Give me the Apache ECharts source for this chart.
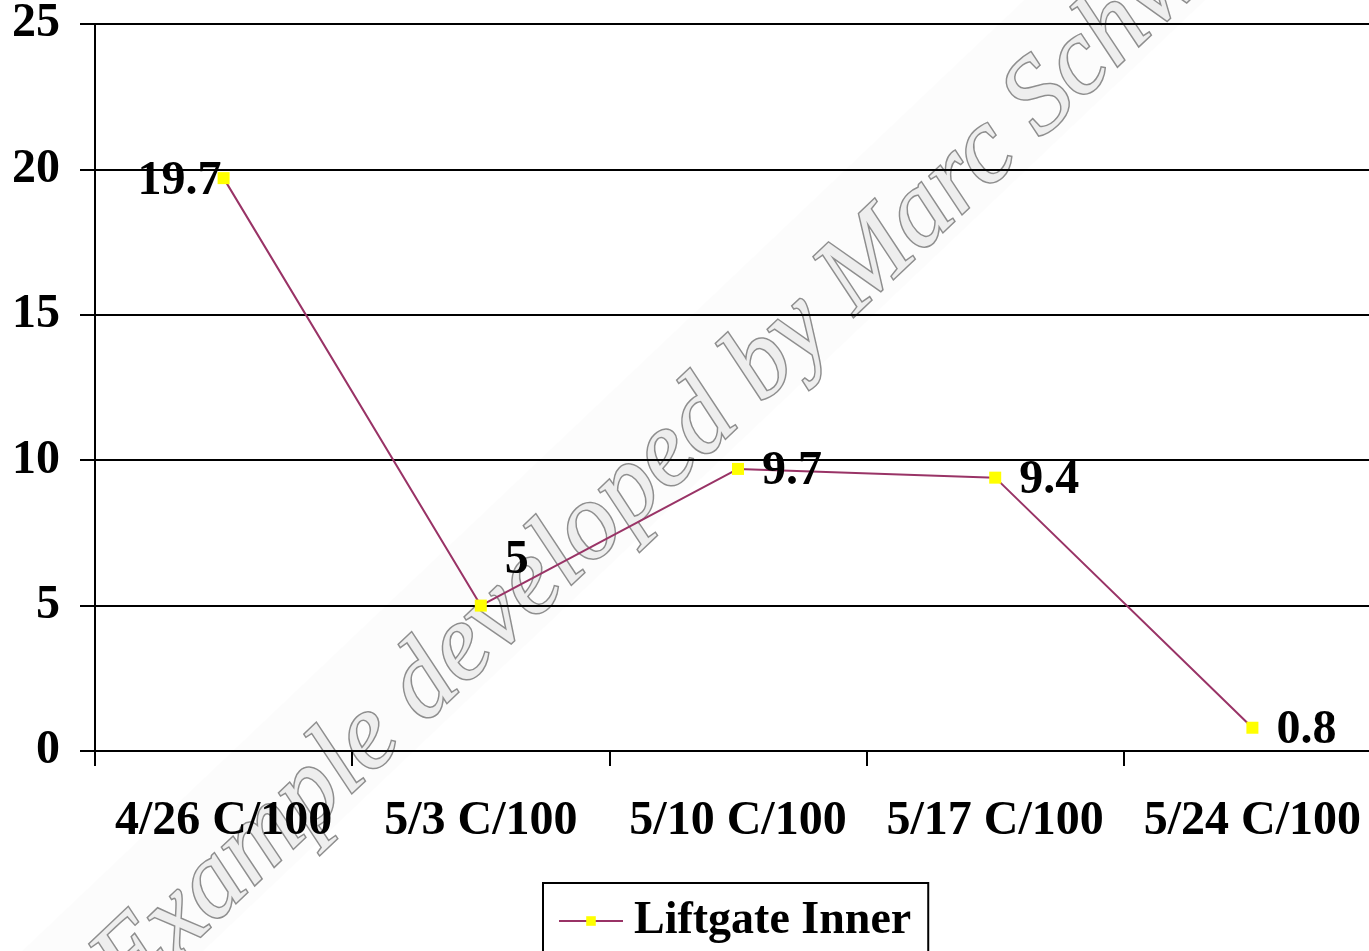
<!DOCTYPE html>
<html>
<head>
<meta charset="utf-8">
<script src="https://cdn.jsdelivr.net/npm/echarts@6/dist/echarts.min.js"></script>
<style>
html,body{margin:0;padding:0;background:#fff;overflow:hidden;}
#chart{width:1381px;height:951px;}
</style>
</head>
<body>
<div id="chart"></div>
<script>
const categories = ['4/26 C/100', '5/3 C/100', '5/10 C/100', '5/17 C/100', '5/24 C/100'];
const seriesName = 'Liftgate Inner';
const values = [19.7, 5, 9.7, 9.4, 0.8];
const yTicks = { min: 0, max: 25, interval: 5 };
const watermarkText = 'Example developed by Marc Schw';

const FONT = '"Liberation Serif", "Times New Roman", serif';
const chart = echarts.init(document.getElementById('chart'));

const seriesData = values.map((v, i) => {
  const d = { value: v };
  if (i === 0) {
    d.label = { position: 'left', distance: -4 };
  } else if (i === 1) {
    d.label = { position: 'right', distance: 18, offset: [0, -45] };
  }
  return d;
});

chart.setOption({
  animation: false,
  backgroundColor: '#ffffff',
  graphic: [{
    type: 'group',
    x: 132, y: 1005,
    rotation: 43.5 * Math.PI / 180,
    z: -10,
    silent: true,
    children: [
      { type: 'rect', shape: { x: -60, y: -115, width: 1700, height: 125 },
        style: { fill: 'rgba(0,0,0,0.012)' }, z: -10 },
      { type: 'text', x: 0, y: 23, z: -9,
        style: {
          text: watermarkText,
          fontFamily: FONT, fontStyle: 'italic', fontSize: 108,
          fill: '#eeeeee', stroke: '#8e8e8e', lineWidth: 3,
          verticalAlign: 'bottom', align: 'left',
          shadowColor: 'rgba(0,0,0,0.35)', shadowBlur: 2, shadowOffsetX: 2, shadowOffsetY: 2
        } }
    ]
  }],
  grid: { left: 95, top: 23, right: 0, height: 728, containLabel: false },
  legend: {
    show: true,
    left: 543, top: 883,
    padding: [15, 17, 40, 15],
    borderColor: '#000', borderWidth: 2,
    itemWidth: 64, itemHeight: 12,
    textStyle: { fontFamily: FONT, fontWeight: 'bold', fontSize: 46, color: '#000', padding: [0, 0, 0, 6] },
    data: [seriesName]
  },
  xAxis: {
    type: 'category',
    data: categories,
    boundaryGap: true,
    axisLine: { lineStyle: { color: '#000', width: 2 } },
    axisTick: { show: true, length: 15, lineStyle: { color: '#000', width: 2 } },
    axisLabel: { margin: 47, fontFamily: FONT, fontWeight: 'bold', fontSize: 48, color: '#000', interval: 0 },
    splitLine: { show: false }
  },
  yAxis: {
    type: 'value',
    min: yTicks.min, max: yTicks.max, interval: yTicks.interval,
    axisLine: { show: true, lineStyle: { color: '#000', width: 2 } },
    axisTick: { show: true, length: 15, lineStyle: { color: '#000', width: 2 } },
    axisLabel: { margin: 35, fontFamily: FONT, fontWeight: 'bold', fontSize: 48, color: '#000' },
    splitLine: { show: true, lineStyle: { color: '#000', width: 2 } }
  },
  series: [{
    name: seriesName,
    type: 'line',
    data: seriesData,
    symbol: 'rect',
    symbolSize: 12,
    itemStyle: { color: '#ffff00' },
    lineStyle: { color: '#993366', width: 2 },
    label: {
      show: true, position: 'right', distance: 18, offset: [0, 3],
      fontFamily: FONT, fontWeight: 'bold', fontSize: 48, color: '#000'
    },
    z: 3
  }]
});
</script>
</body>
</html>
